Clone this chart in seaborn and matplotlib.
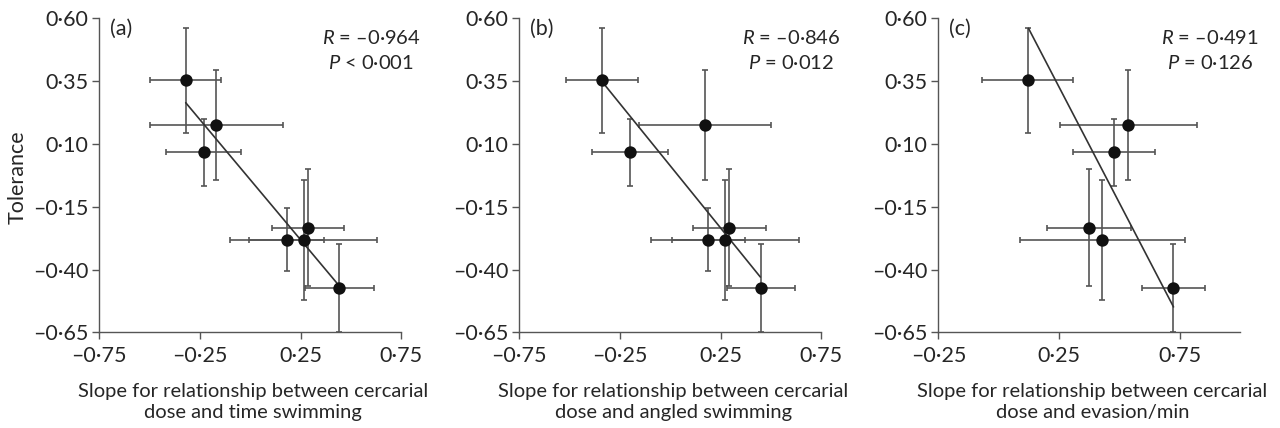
import seaborn as sns
import matplotlib.pyplot as plt

# Tolerance (same y values in all three panels)
tolerance = [0.353, 0.175, 0.067, -0.281, -0.281, -0.233, -0.473]
tolerance_err = [0.21, 0.218, 0.133, 0.124, 0.239, 0.232, 0.175]

# Slopes for cercarial dose vs behaviour (one point not shown in panel c)
nan = float("nan")
time_swim = [-0.322, -0.169, -0.232, 0.180, 0.265, 0.285, 0.442]
time_swim_err = [0.177, 0.33, 0.185, 0.186, 0.365, 0.18, 0.172]
angled_swim = [-0.341, 0.172, -0.200, 0.189, 0.271, 0.293, 0.450]
angled_swim_err = [0.178, 0.329, 0.19, 0.182, 0.368, 0.18, 0.171]
evasion = [0.119, 0.536, 0.476, nan, 0.428, 0.374, 0.722]
evasion_err = [0.188, 0.284, 0.169, nan, 0.341, 0.174, 0.131]

# fitted lines (end points)
fit_time_x = [-0.321, 0.438]
fit_time_y = [0.264, -0.462]
fit_angled_x = [-0.341, 0.447]
fit_angled_y = [0.35, -0.43]
fit_evasion_x = [0.123, 0.723]
fit_evasion_y = [0.56, -0.549]

panel_letters = ["(a)", "(b)", "(c)"]
r_texts = ["\u20130\u00b7964", "\u20130\u00b7846", "\u20130\u00b7491"]
p_texts = ["< 0\u00b7001", "= 0\u00b7012", "= 0\u00b7126"]
x_labels = ["Slope for relationship between cercarial\ndose and time swimming",
            "Slope for relationship between cercarial\ndose and angled swimming",
            "Slope for relationship between cercarial\ndose and evasion/min"]

ytick_vals = [0.60, 0.35, 0.10, -0.15, -0.40, -0.65]
ytick_labels = ["0\u00b760", "0\u00b735", "0\u00b710", "\u20130\u00b715", "\u20130\u00b740", "\u20130\u00b765"]
xtick_ab = [-0.75, -0.25, 0.25, 0.75]
xtick_ab_labels = ["\u20130\u00b775", "\u20130\u00b725", "0\u00b725", "0\u00b775"]
xtick_c = [-0.25, 0.25, 0.75]
xtick_c_labels = ["\u20130\u00b725", "0\u00b725", "0\u00b775"]

sns.set_style("ticks")
plt.rcParams["font.family"] = ["Lato", "DejaVu Sans"]
plt.rcParams["mathtext.fontset"] = "custom"
plt.rcParams["mathtext.it"] = "Lato:italic"
plt.rcParams["mathtext.rm"] = "Lato"

fig = plt.figure(figsize=(12.8, 4.28), dpi=100)
lefts = [0.0776, 0.4057, 0.7331]
axes = [fig.add_axes([l, 0.2236, 0.2360, 0.7336]) for l in lefts]

panels = [
    (time_swim, time_swim_err, fit_time_x, fit_time_y, (-0.75, 0.75), xtick_ab, xtick_ab_labels),
    (angled_swim, angled_swim_err, fit_angled_x, fit_angled_y, (-0.75, 0.75), xtick_ab, xtick_ab_labels),
    (evasion, evasion_err, fit_evasion_x, fit_evasion_y, (-0.25, 1.0), xtick_c, xtick_c_labels),
]

grey = "#555555"
txt = "#262626"
fs = 15.5
for i, (ax, (xs, xerr, fx, fy, xlim, xt, xtl)) in enumerate(zip(axes, panels)):
    ax.errorbar(xs, tolerance, xerr=xerr, yerr=tolerance_err, fmt="none",
                ecolor=grey, elinewidth=1.2, capsize=2.5, capthick=1.2, zorder=2)
    sns.lineplot(x=fx, y=fy, ax=ax, color="#333333", linewidth=1.2, sort=False, zorder=2)
    sns.scatterplot(x=xs, y=tolerance, ax=ax, color="#111111", edgecolor="#111111",
                    s=80, linewidth=0, zorder=3)

    ax.set_xlim(*xlim)
    ax.set_ylim(-0.65, 0.60)
    ax.set_xticks(xt)
    ax.set_xticklabels(xtl)
    ax.set_yticks(ytick_vals)
    ax.set_yticklabels(ytick_labels)
    ax.tick_params(length=5, width=1, color=grey, labelsize=fs, labelcolor=txt, pad=3)
    ax.tick_params(axis="x", pad=5)
    sns.despine(ax=ax)
    for s in ["left", "bottom"]:
        ax.spines[s].set_color(grey)
        ax.spines[s].set_linewidth(1)

    ax.text(0.035, 0.965, panel_letters[i], transform=ax.transAxes, ha="left", va="center",
            fontsize=fs, color=txt)
    ax.text(0.90, 0.937, "$R$ = " + r_texts[i], transform=ax.transAxes, ha="center",
            va="center", fontsize=14.5, color=txt)
    ax.text(0.90, 0.857, "$P$ " + p_texts[i], transform=ax.transAxes, ha="center",
            va="center", fontsize=14.5, color=txt)

    ax.set_xlabel(x_labels[i], fontsize=14.5, color=txt, linespacing=1.3)
    ax.xaxis.set_label_coords(0.51, -0.16)
    if i == 0:
        ax.set_ylabel("Tolerance", fontsize=fs, color=txt)
        ax.yaxis.set_label_coords(-0.269, 0.495)
        ax.yaxis.label.set_va("center")
    else:
        ax.set_ylabel("")

fig.savefig("out.png", dpi=100)
